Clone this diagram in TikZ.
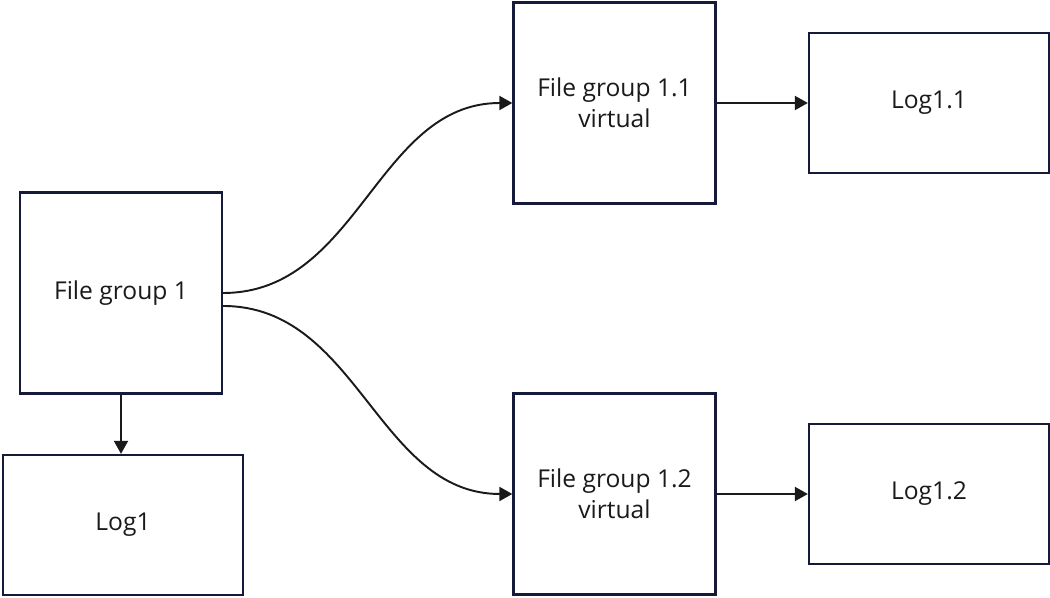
\documentclass[tikz,border=0pt]{standalone}
\usepackage{fontspec}
\setmainfont{Open Sans}
\usetikzlibrary{arrows.meta}
\definecolor{boxline}{HTML}{151A3A}
\definecolor{arrowline}{HTML}{1A1A1A}
\definecolor{labeltext}{HTML}{1A1A1A}
\begin{document}
\begin{tikzpicture}[node distance=2cm, auto,
    box/.style={draw=boxline, line width=1.3pt, align=center, text=labeltext,
        font=\fontsize{14}{17.5}\selectfont},
    big/.style={box, minimum width=4.04cm, minimum height=4.02cm},
    small/.style={box, minimum width=4.8cm, minimum height=2.8cm},
    flow/.style={draw=arrowline, line width=1.1pt, -{Triangle[length=2.6mm, width=2.8mm]}}]
    \useasboundingbox (-2.42,-6.1) rectangle (18.58,5.86);
    \node[big] (fg) at (0,0) {File group 1};
    \node[small, below of=fg, node distance=4.64cm, xshift=0.04cm] (log) {Log1};
    \node[big] (fga) at (9.87,3.8) {File group 1.1\\virtual};
    \node[big] (fgb) at (9.87,-4.02) {File group 1.2\\virtual};
    \node[small, right of=fga, node distance=6.29cm] (loga) {Log1.1};
    \node[small, right of=fgb, node distance=6.29cm] (logb) {Log1.2};

    % Edges
    \draw[flow] (fg.east) to[out=0, in=180] (fga.west);
    \draw[flow] ([yshift=-0.26cm]fg.east) to[out=0, in=180] (fgb.west);
    \draw[flow] (fg.south) -- (fg.south |- log.north);
    \draw[flow] (fga.east) -- (fga.east -| loga.west);
    \draw[flow] (fgb.east) -- (fgb.east -| logb.west);
\end{tikzpicture}
\end{document}
